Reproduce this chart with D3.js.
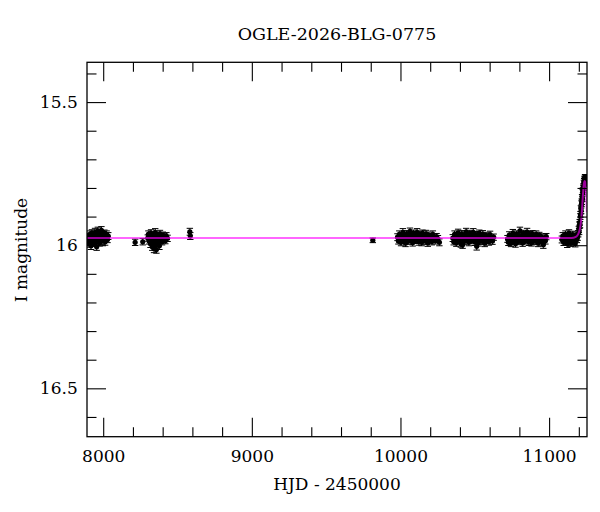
<!DOCTYPE html>
<html>
<head>
<meta charset="utf-8">
<script src="https://cdn.jsdelivr.net/npm/d3@7"></script>
<style>
  body { margin: 0; background: #fff; }
  svg text { font-family: "DejaVu Serif", serif; fill: #000; }
</style>
</head>
<body>
<div id="chart"></div>
<script>
// Light curve points: [HJD - 2450000, I mag, error]
const season2017 = [
  [7893,15.978,0.011],[7896,15.990,0.012],[7899,15.968,0.010],[7902,15.985,0.013],[7905,15.972,0.011],
  [7908,15.995,0.012],[7911,15.962,0.012],[7914,15.980,0.010],[7918,16.002,0.013],[7921,15.970,0.011],
  [7924,15.958,0.012],[7927,15.984,0.011],[7931,15.976,0.010],[7934,15.992,0.012],[7937,15.965,0.013],
  [7941,15.979,0.011],[7945,15.955,0.014],[7948,15.987,0.012],[7952,15.970,0.011],[7956,16.005,0.013],
  [7960,15.974,0.010],[7964,15.950,0.013],[7968,15.982,0.012],[7972,15.967,0.011],[7976,15.991,0.012],
  [7980,15.960,0.012],[7984,15.977,0.011],[7988,15.948,0.013],[7992,15.985,0.012],[7996,15.966,0.011],
  [8000,15.980,0.010],[8004,15.972,0.012],[8008,15.958,0.011],[8013,15.988,0.012],[8018,15.970,0.011],
  [8023,15.962,0.012],[8029,15.980,0.011],[8034,15.968,0.012]
];
const season2018 = [
  [8215,15.990,0.011],[8266,15.988,0.011],
  [8300,15.975,0.011],[8304,15.962,0.012],[8309,15.985,0.011],[8313,15.970,0.012],[8318,15.995,0.013],
  [8322,15.958,0.012],[8326,15.980,0.011],[8330,16.005,0.013],[8334,15.968,0.012],[8338,15.990,0.012],
  [8342,16.012,0.014],[8346,15.975,0.011],[8350,15.955,0.013],[8354,15.998,0.012],[8358,16.015,0.013],
  [8362,15.982,0.012],[8366,15.965,0.011],[8370,15.992,0.012],[8374,15.972,0.011],[8378,16.002,0.013],
  [8382,15.960,0.012],[8386,15.980,0.011],[8391,15.970,0.012],[8396,15.988,0.011],[8401,15.966,0.012],
  [8406,15.978,0.011],[8412,15.972,0.012],[8418,15.984,0.011],[8425,15.968,0.012],[8433,15.976,0.011],
  [8583,15.953,0.012],[8586,15.968,0.012]
];
const season2022 = [
  [9814,15.983,0.008]
];
const season2023 = [
  [9980,15.972,0.012],[9986,15.985,0.011],[9992,15.962,0.012],[9998,15.978,0.011],[10004,15.990,0.012],
  [10010,15.968,0.011],[10016,15.955,0.013],[10022,15.981,0.011],[10028,15.974,0.012],[10034,15.993,0.012],
  [10040,15.960,0.011],[10046,15.977,0.012],[10052,15.986,0.011],[10058,15.965,0.012],[10064,15.952,0.012],
  [10070,15.980,0.011],[10076,15.970,0.012],[10082,15.991,0.012],[10088,15.958,0.011],[10094,15.975,0.012],
  [10100,15.983,0.011],[10106,15.966,0.012],[10112,15.955,0.013],[10118,15.979,0.011],[10124,15.988,0.012],
  [10130,15.962,0.011],[10136,15.973,0.012],[10142,15.990,0.012],[10148,15.958,0.011],[10154,15.978,0.012],
  [10160,15.968,0.011],[10166,15.985,0.012],[10172,15.960,0.012],[10178,15.976,0.011],[10184,15.992,0.012],
  [10190,15.965,0.011],[10197,15.980,0.012],[10204,15.970,0.011],[10211,15.987,0.012],[10218,15.962,0.012],
  [10226,15.976,0.011],[10234,15.984,0.012],[10243,15.970,0.011],[10252,15.978,0.012],[10262,15.990,0.012]
];
const season2024 = [
  [10352,15.975,0.012],[10358,15.988,0.011],[10364,15.962,0.012],[10370,15.979,0.011],[10376,15.992,0.012],
  [10382,15.968,0.011],[10388,15.957,0.013],[10394,15.983,0.011],[10400,15.974,0.012],[10406,15.995,0.012],
  [10412,15.960,0.011],[10418,15.998,0.013],[10424,15.976,0.012],[10430,15.986,0.011],[10436,15.966,0.012],
  [10442,15.953,0.012],[10448,15.981,0.011],[10454,15.971,0.012],[10460,15.990,0.012],[10466,15.959,0.011],
  [10472,15.977,0.012],[10478,15.984,0.011],[10484,15.967,0.012],[10490,15.955,0.013],[10496,15.980,0.011],
  [10502,15.989,0.012],[10508,15.963,0.011],[10513,16.004,0.013],[10518,15.974,0.012],[10524,15.991,0.012],
  [10530,15.958,0.011],[10536,15.979,0.012],[10542,15.969,0.011],[10548,15.986,0.012],[10554,15.961,0.012],
  [10560,15.977,0.011],[10567,15.993,0.012],[10574,15.966,0.011],[10581,15.981,0.012],[10588,15.971,0.011],
  [10595,15.988,0.012],[10603,15.963,0.012],[10611,15.977,0.011],[10619,15.985,0.012],[10627,15.972,0.011]
];
const season2025 = [
  [10720,15.978,0.012],[10726,15.990,0.011],[10732,15.965,0.012],[10738,15.981,0.011],[10744,15.993,0.012],
  [10750,15.970,0.011],[10756,15.958,0.013],[10762,15.984,0.011],[10768,15.975,0.012],[10774,15.995,0.012],
  [10780,15.961,0.011],[10786,15.978,0.012],[10792,15.987,0.011],[10798,15.967,0.012],[10804,15.950,0.013],
  [10810,15.982,0.011],[10816,15.972,0.012],[10822,15.992,0.012],[10828,15.959,0.011],[10834,15.976,0.012],
  [10840,15.985,0.011],[10846,15.966,0.012],[10852,15.954,0.013],[10858,15.980,0.011],[10864,15.989,0.012],
  [10870,15.963,0.011],[10876,15.974,0.012],[10882,15.991,0.012],[10888,15.960,0.011],[10894,15.979,0.012],
  [10900,15.969,0.011],[10906,15.986,0.012],[10913,15.962,0.012],[10920,15.977,0.011],[10927,15.993,0.012],
  [10934,15.966,0.011],[10941,15.981,0.012],[10948,15.971,0.011],[10955,15.988,0.012],[10961,15.998,0.013],
  [10968,15.975,0.011],[10975,15.984,0.012],[10981,15.970,0.011]
];
const season2026 = [
  [11086,15.980,0.012],[11092,15.968,0.012],[11098,15.990,0.011],[11104,15.975,0.012],[11110,15.962,0.012],
  [11116,15.985,0.011],[11122,15.995,0.013],[11128,15.970,0.012],[11134,15.958,0.012],[11140,15.982,0.011],
  [11146,15.992,0.012],[11152,15.972,0.011],[11158,15.963,0.012],[11164,15.986,0.012],[11170,15.976,0.011],
  [11176,15.994,0.012],[11182,15.966,0.012],[11187,15.980,0.011],[11192,15.971,0.012],[11196,15.960,0.011],
  [11200,15.945,0.011],[11202,15.952,0.011],[11204,15.930,0.011],[11206,15.920,0.010],[11208,15.928,0.011],
  [11210,15.900,0.010],[11212,15.892,0.010],[11214,15.872,0.010],[11216,15.880,0.010],[11218,15.855,0.010],
  [11220,15.848,0.010],[11222,15.832,0.009],[11224,15.838,0.009],[11226,15.815,0.009],[11228,15.808,0.009],
  [11230,15.795,0.009],[11232,15.800,0.009],[11234,15.782,0.009],[11236,15.776,0.009],[11238,15.768,0.009],
  [11240,15.772,0.009],[11242,15.762,0.009],[11244,15.770,0.009],[11246,15.765,0.009],[11248,15.778,0.009],
  [11250,15.772,0.009],[11252,15.785,0.009]
];

// Microlensing model curve: [HJD - 2450000, I mag]
const modelCurve = [
  [7890,15.975],[11150,15.975],[11180,15.971],[11195,15.962],[11205,15.948],[11212,15.928],
  [11218,15.900],[11223,15.862],[11228,15.822],[11232,15.795],[11236,15.780],[11240,15.776],
  [11244,15.782],[11248,15.812],[11251,15.850],[11254,15.885]
];

const title = 'OGLE-2026-BLG-0775';
const xTicksMajor = [8000, 9000, 10000, 11000];
const yTicksMajor = [15.5, 16, 16.5];

const allPoints = [].concat(season2017, season2018, season2022, season2023,
                            season2024, season2025, season2026);

const margin = { top: 62.3, right: 13, bottom: 75.3, left: 87 };
const width = 600 - margin.left - margin.right;
const height = 512 - margin.top - margin.bottom;

const svg = d3.select('#chart')
    .append('svg')
    .attr('width', 600)
    .attr('height', 512);

const g = svg.append('g')
    .attr('transform', `translate(${margin.left},${margin.top})`);

const xScale = d3.scaleLinear().domain([7891, 11255]).range([0, width]);
const yScale = d3.scaleLinear().domain([15.361, 16.669]).range([0, height]);

// minor ticks every 200 days / 0.1 mag
const xMinor = d3.range(8000, 11255, 200).filter(v => v % 1000 !== 0);
const yMinor = d3.range(15.4, 16.67, 0.1).map(v => +v.toFixed(1))
    .filter(v => !yTicksMajor.includes(v));

g.append('clipPath').attr('id', 'plot-clip')
    .append('rect').attr('width', width).attr('height', height);

const plot = g.append('g').attr('clip-path', 'url(#plot-clip)');

// error bars
const capW = 3.2;
const bars = plot.append('g')
    .attr('stroke', '#000')
    .attr('stroke-width', 1);

allPoints.forEach(d => {
    const x = xScale(d[0]);
    const y1 = yScale(d[1] - d[2]);
    const y2 = yScale(d[1] + d[2]);
    bars.append('line').attr('x1', x).attr('x2', x).attr('y1', y1).attr('y2', y2);
    bars.append('line').attr('x1', x - capW).attr('x2', x + capW).attr('y1', y1).attr('y2', y1);
    bars.append('line').attr('x1', x - capW).attr('x2', x + capW).attr('y1', y2).attr('y2', y2);
});

plot.append('g')
    .selectAll('circle')
    .data(allPoints)
    .join('circle')
    .attr('cx', d => xScale(d[0]))
    .attr('cy', d => yScale(d[1]))
    .attr('r', 2.6)
    .attr('fill', '#000');

// model line
const lineGenerator = d3.line()
    .x(d => xScale(d[0]))
    .y(d => yScale(d[1]))
    .curve(d3.curveMonotoneX);

plot.append('path')
    .datum(modelCurve)
    .attr('d', lineGenerator)
    .attr('fill', 'none')
    .attr('stroke', '#ff00ff')
    .attr('stroke-opacity', 0.6)
    .attr('stroke-width', 2);

// axes with inward ticks on all four sides
function styleAxis(sel) {
    sel.select('.domain').remove();
    sel.selectAll('line').attr('stroke', '#000').attr('stroke-width', 1.1);
    sel.selectAll('text').style('font-size', '17px').style('font-family', '"DejaVu Serif", serif');
}

g.append('g')
    .attr('transform', `translate(0,${height})`)
    .call(d3.axisBottom(xScale).tickValues(xTicksMajor).tickSize(-19).tickPadding(13.3)
        .tickFormat(d3.format('d')))
    .call(styleAxis);
g.append('g')
    .attr('transform', `translate(0,${height})`)
    .call(d3.axisBottom(xScale).tickValues(xMinor).tickSize(-9.5).tickFormat(''))
    .call(styleAxis);
g.append('g')
    .call(d3.axisTop(xScale).tickValues(xTicksMajor).tickSize(-19).tickFormat(''))
    .call(styleAxis);
g.append('g')
    .call(d3.axisTop(xScale).tickValues(xMinor).tickSize(-9.5).tickFormat(''))
    .call(styleAxis);

g.append('g')
    .call(d3.axisLeft(yScale).tickValues(yTicksMajor).tickSize(-19).tickPadding(9.3)
        .tickFormat(d => d3.format('')(d)))
    .call(styleAxis);
g.append('g')
    .call(d3.axisLeft(yScale).tickValues(yMinor).tickSize(-9.5).tickFormat(''))
    .call(styleAxis);
g.append('g')
    .attr('transform', `translate(${width},0)`)
    .call(d3.axisRight(yScale).tickValues(yTicksMajor).tickSize(-19).tickFormat(''))
    .call(styleAxis);
g.append('g')
    .attr('transform', `translate(${width},0)`)
    .call(d3.axisRight(yScale).tickValues(yMinor).tickSize(-9.5).tickFormat(''))
    .call(styleAxis);

// frame
g.append('rect')
    .attr('width', width)
    .attr('height', height)
    .attr('fill', 'none')
    .attr('stroke', '#000')
    .attr('stroke-width', 1.3);

// title and axis labels
svg.append('text')
    .attr('x', margin.left + width / 2)
    .attr('y', 40)
    .attr('text-anchor', 'middle')
    .style('font-size', '17.5px')
    .text(title);

svg.append('text')
    .attr('x', margin.left + width / 2)
    .attr('y', 490)
    .attr('text-anchor', 'middle')
    .style('font-size', '17px')
    .text('HJD - 2450000');

svg.append('text')
    .attr('transform', 'rotate(-90)')
    .attr('x', -250)
    .attr('y', 27)
    .attr('text-anchor', 'middle')
    .style('font-size', '17px')
    .text('I magnitude');
</script>
</body>
</html>
